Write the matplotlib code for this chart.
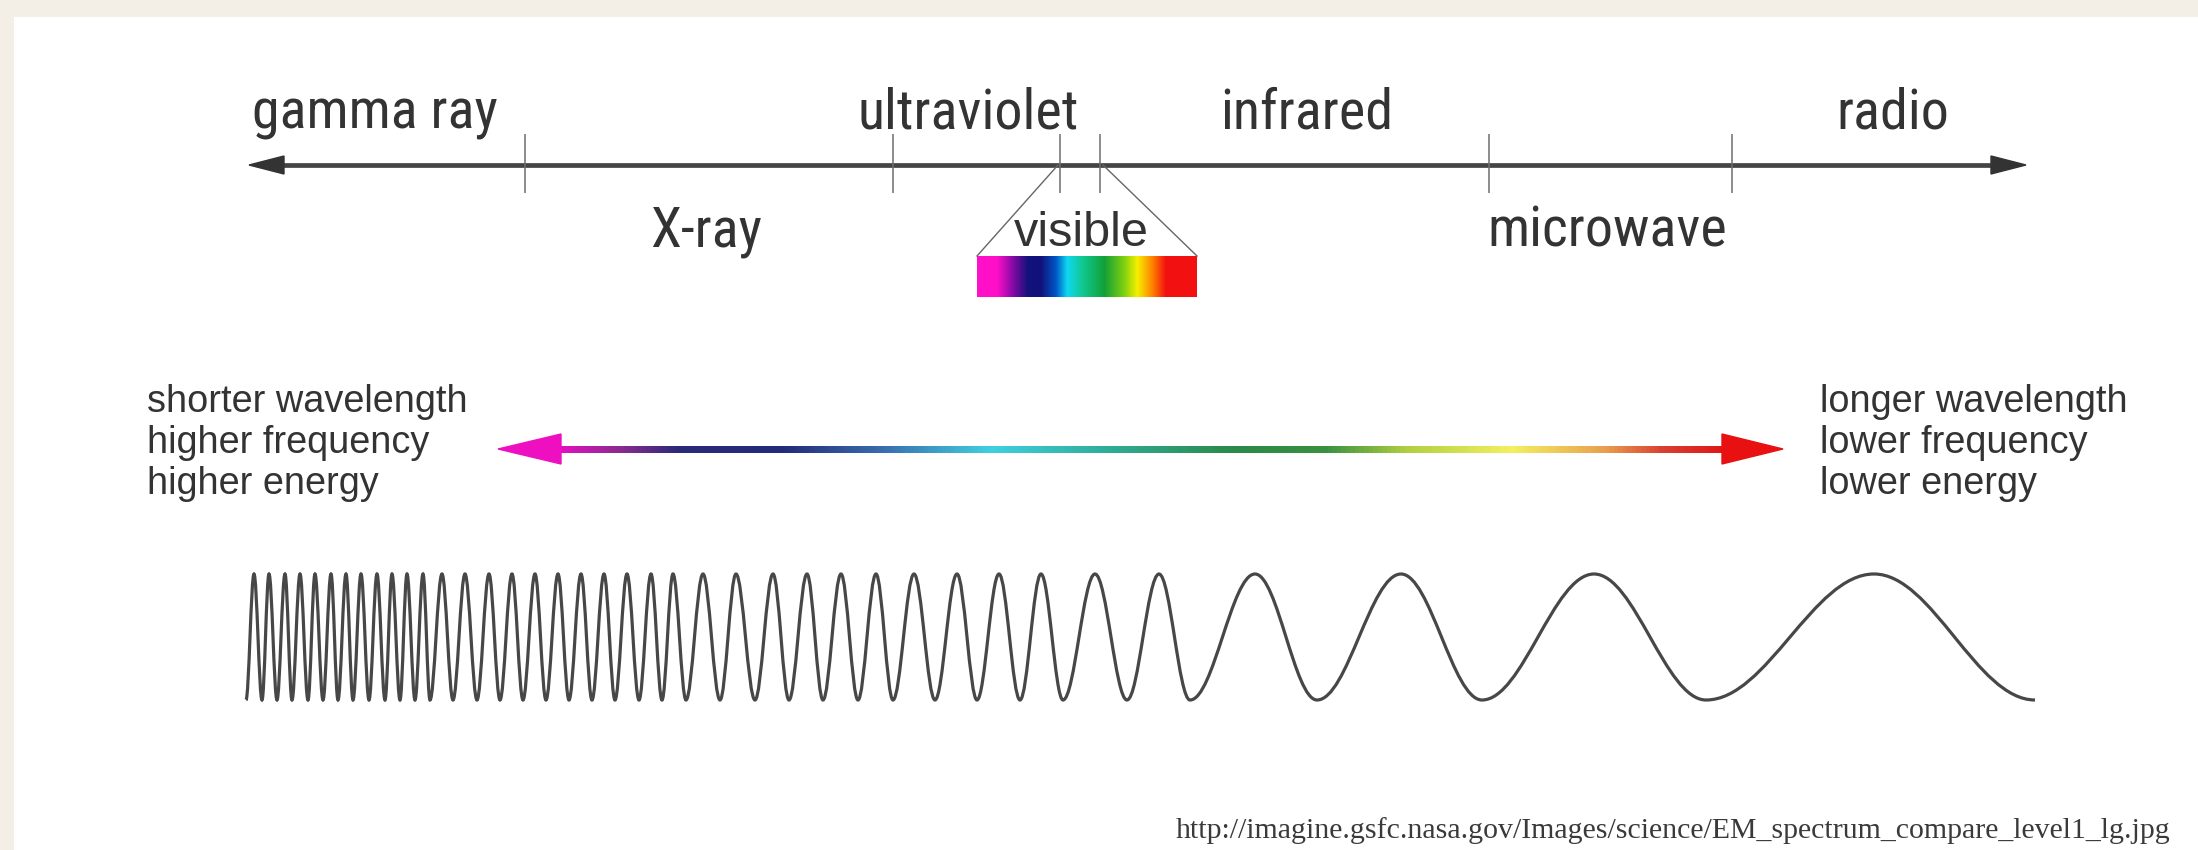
import numpy as np
import matplotlib
matplotlib.use('Agg')
import matplotlib.pyplot as plt
from matplotlib import font_manager
from matplotlib.colors import LinearSegmentedColormap
from matplotlib.patches import Polygon, Rectangle, PathPatch
from matplotlib.path import Path

# band labels above and below the spectrum line
top_labels = ['gamma ray', 'ultraviolet', 'infrared', 'radio']
top_label_x = [375, 968, 1307, 1893]
bottom_labels = ['X-ray', 'visible', 'microwave']
bottom_label_x = [706, 1081, 1607]

# band boundaries along the spectrum line (diagram units)
band_edges = [525, 893, 1060, 1100, 1489, 1732]

# visible strip colours, violet -> red
visible_stops = [0, 0.09, 0.16, 0.23, 0.29, 0.36, 0.41, 0.48, 0.58, 0.67, 0.73, 0.80, 0.86, 1]
visible_colors = ['#ff10c8', '#ff10c8', '#8a0aa8', '#12127a', '#10127a', '#0058c8', '#10d8f2',
                  '#10c890', '#12a038', '#80d010', '#f6f000', '#ff8000', '#f21010', '#f21010']

# colours along the wavelength/energy arrow
arrow_stops = [0, 0.05, 0.10, 0.19, 0.28, 0.37, 0.46, 0.58, 0.66, 0.73, 0.82, 0.90, 0.95, 1]
arrow_colors = ['#e010c0', '#8a2a90', '#2a2a78', '#242a78', '#3a70b0', '#40d0e0', '#30b0a0',
                '#2a8a48', '#3a9040', '#b0d040', '#f4f060', '#e8a050', '#d84030', '#e01818']

left_lines = ['shorter wavelength', 'higher frequency', 'higher energy']
right_lines = ['longer wavelength', 'lower frequency', 'lower energy']

wave_peaks = [254, 269, 285, 300, 315, 331, 346, 361, 377, 392, 407, 423, 442, 465, 489, 512,
              535, 558, 581, 604, 627, 651, 673, 703, 736, 773, 807, 841, 876, 914, 957, 999,
              1041, 1095, 1159, 1255, 1401, 1594, 1874]
wave_troughs = [246, 262, 277, 292, 308, 323, 338, 353, 369, 385, 400, 415, 430, 453, 477, 500,
                523, 546, 569, 592, 615, 639, 662, 686, 720, 755, 789, 823, 858, 893, 935, 977,
                1020, 1063, 1127, 1190, 1317, 1482, 1706, 2035]

source_url = 'http://imagine.gsfc.nasa.gov/Images/science/EM_spectrum_compare_level1_lg.jpg'

# band names are set in a narrow sans in the original; use one if installed
installed = {f.name for f in font_manager.fontManager.ttflist}
band_font, band_stretch = 'Liberation Sans', 'normal'
for n in ['Liberation Sans Narrow', 'Arial Narrow', 'Nimbus Sans Narrow', 'Roboto Condensed']:
    if n in installed:
        band_font = n
        break
else:
    for f in font_manager.fontManager.ttflist:
        if f.name in ('Roboto', 'DejaVu Sans', 'Noto Sans', 'Open Sans') and \
                str(f.stretch) in ('condensed', 'semi-condensed'):
            band_font, band_stretch = f.name, 'condensed'
            break

text_color = '#333333'

fig = plt.figure(figsize=(21.98, 8.5), dpi=100, facecolor='#f3efe6')
ax = fig.add_axes([0, 0, 1, 1])
ax.set_xlim(0, 2198)
ax.set_ylim(850, 0)
ax.axis('off')

# size the band names so "gamma ray" spans the same width as in the original
renderer = fig.canvas.get_renderer()
probe = ax.text(0, 0, top_labels[0], family=band_font, fontstretch=band_stretch, fontsize=34)
band_size = min(44, 34 * 246 / probe.get_window_extent(renderer).width)
probe.remove()

# white slide panel
ax.add_patch(Rectangle((14, 17), 2198, 850, facecolor='white', edgecolor='none', zorder=0))

# main spectrum line with arrowheads
axis_y = 165
ax.plot([270, 2005], [axis_y, axis_y], color='#444444', lw=3.4, solid_capstyle='butt', zorder=2)
ax.add_patch(Polygon([[249, axis_y], [284, axis_y - 9], [284, axis_y + 9]],
                     closed=True, color='#333333', zorder=3))
ax.add_patch(Polygon([[2026, axis_y], [1991, axis_y - 9], [1991, axis_y + 9]],
                     closed=True, color='#333333', zorder=3))
ax.vlines(band_edges, 134, 193, color='#6e6e6e', lw=1.1, zorder=2)

for name, x in zip(top_labels, top_label_x):
    ax.text(x, 128, name, ha='center', va='baseline', family=band_font,
            fontstretch=band_stretch, fontsize=band_size, color=text_color)
for name, x in zip(bottom_labels, bottom_label_x):
    if name == 'visible':
        ax.text(x, 246, name, ha='center', va='baseline', family='Liberation Sans',
                fontsize=35, color=text_color)
    else:
        ax.text(x, 246, name, ha='center', va='baseline', family=band_font,
                fontstretch=band_stretch, fontsize=band_size, color=text_color)

# visible strip and the wedge lines leading to it
bar_l, bar_r, bar_t, bar_b = 977, 1197, 256, 297
ax.plot([band_edges[2] - 2, bar_l], [axis_y, bar_t], color='#666666', lw=1.0, zorder=2)
ax.plot([band_edges[3] + 3, bar_r], [axis_y, bar_t], color='#666666', lw=1.0, zorder=2)
vis_cmap = LinearSegmentedColormap.from_list('vis', list(zip(visible_stops, visible_colors)))
grad = np.linspace(0, 1, 256).reshape(1, -1)
ax.imshow(grad, cmap=vis_cmap, extent=(bar_l, bar_r, bar_b, bar_t), aspect='auto',
          interpolation='bilinear', zorder=2)

# rainbow double arrow
arr_y, shaft_l, shaft_r = 449, 558, 1725
arr_cmap = LinearSegmentedColormap.from_list('arr', list(zip(arrow_stops, arrow_colors)))
ax.imshow(grad, cmap=arr_cmap, extent=(shaft_l, shaft_r, arr_y + 3.5, arr_y - 3.5),
          aspect='auto', interpolation='bilinear', zorder=2)
ax.add_patch(Polygon([[498, arr_y], [561, arr_y - 15], [561, arr_y + 15]],
                     closed=True, color='#ee10c0', zorder=3))
ax.add_patch(Polygon([[1783, arr_y], [1722, arr_y - 15], [1722, arr_y + 15]],
                     closed=True, color='#e81010', zorder=3))

for i, line in enumerate(left_lines):
    ax.text(147, 412 + 41 * i, line, ha='left', va='baseline', family='Liberation Sans',
            fontsize=27.3, color=text_color)
for i, line in enumerate(right_lines):
    ax.text(1820, 412 + 41 * i, line, ha='left', va='baseline', family='Liberation Sans',
            fontsize=27.3, color=text_color)

# wave: half-cosine bezier between alternating troughs and crests
crest_y, trough_y = 574, 700
extrema = []
for i, xt in enumerate(wave_troughs):
    extrema.append((xt, trough_y))
    if i < len(wave_peaks):
        extrema.append((wave_peaks[i], crest_y))
k = 0.3634
verts = [extrema[0]]
codes = [Path.MOVETO]
for (x0, y0), (x1, y1) in zip(extrema[:-1], extrema[1:]):
    dx = x1 - x0
    verts += [(x0 + k * dx, y0), (x1 - k * dx, y1), (x1, y1)]
    codes += [Path.CURVE4] * 3
ax.add_patch(PathPatch(Path(verts, codes), facecolor='none', edgecolor='#474747',
                       lw=2.3, zorder=2))

ax.text(2170, 838, source_url, ha='right', va='baseline', family='Liberation Serif',
        fontsize=21.5, color='#3a3a3a')

fig.savefig('out.png', dpi=100, facecolor=fig.get_facecolor())
